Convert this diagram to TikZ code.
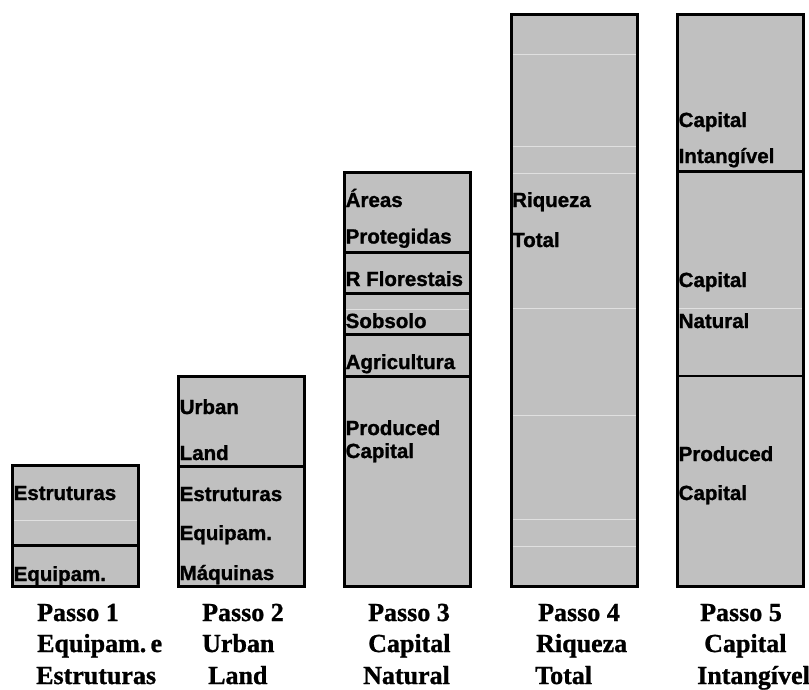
\documentclass[tikz,border=0pt]{standalone}
\usepackage{fontspec}
\newfontfamily\barfont{Liberation Sans Bold}[FakeBold=1.2]
\newfontfamily\passofont{Liberation Serif Bold}[FakeBold=1]
\usepackage{xcolor}
\usepackage{tikz}
\usetikzlibrary{calc}

\definecolor{Silver}{RGB}{192,192,192}
\definecolor{Faint}{RGB}{224,224,224}

\begin{document}
\begin{tikzpicture}[x=1pt, y=-1pt,
	barfill/.style={fill=Silver},
	barline/.style={draw=black, line width=3pt},
	faint/.style={draw=Faint, line width=1pt},
	lbl/.style={anchor=base west, inner sep=0pt, font=\barfont\fontsize{20.5}{22}\selectfont},
	passo/.style={anchor=base west, inner sep=0pt, font=\passofont\fontsize{26}{28}\selectfont}]

	\useasboundingbox (0,0) rectangle (809,689);

	% Passo 1
	\fill[barfill] (12.5,465.5) rectangle (138.5,586.5);
	\draw[faint] (12.5,520) -- (138.5,520);
	\draw[barline] (12.5,465.5) rectangle (138.5,586.5);
	\draw[barline] (12.5,545.5) -- (138.5,545.5);
	\node[lbl] (estr1) at (13.5,500) {Estruturas};
	\node[lbl] (equi1) at (13.5,581) {Equipam.};

	% Passo 2
	\fill[barfill] (178.5,376) rectangle (304.5,586.5);
	\draw[barline] (178.5,376) rectangle (304.5,586.5);
	\draw[barline] (178.5,466) -- (304.5,466);
	\node[lbl] (urb2) at (179.5,414) {Urban};
	\node[lbl] (land2) at (179.5,460) {Land};
	\node[lbl] (estr2) at (179.5,501) {Estruturas};
	\node[lbl] (equi2) at (179.5,540) {Equipam.};
	\node[lbl] (maq2) at (179.5,580) {Máquinas};

	% Passo 3
	\fill[barfill] (344.5,172.5) rectangle (470.5,586.5);
	\draw[faint] (344.5,309) -- (470.5,309);
	\draw[barline] (344.5,172.5) rectangle (470.5,586.5);
	\foreach \y in {252,293,334,376}
		\draw[barline] (344.5,\y) -- (470.5,\y);
	\node[lbl] (area3) at (345.5,207) {Áreas};
	\node[lbl] (prot3) at (345.5,243.5) {Protegidas};
	\node[lbl] (flor3) at (345.5,286) {R Florestais};
	\node[lbl] (sobs3) at (345.5,328) {Sobsolo};
	\node[lbl] (agri3) at (345.5,369) {Agricultura};
	\node[lbl] (prod3) at (345.5,435) {Produced};
	\node[lbl] (capi3) at (345.5,458) {Capital};

	% Passo 4
	\fill[barfill] (511,14.5) rectangle (637,586.5);
	\foreach \y in {54,146,173,308,415,519,546}
		\draw[faint] (511,\y) -- (637,\y);
	\draw[barline] (511,14.5) rectangle (637,586.5);
	\node[lbl] (riq4) at (512,207) {Riqueza};
	\node[lbl] (tot4) at (512,247) {Total};

	% Passo 5
	\fill[barfill] (677.5,14.5) rectangle (803.5,586.5);
	\draw[faint] (677.5,308) -- (803.5,308);
	\draw[barline] (677.5,14.5) rectangle (803.5,586.5);
	\draw[barline] (677.5,171) -- (803.5,171);
	\draw[draw=black, line width=2pt] (677.5,376) -- (803.5,376);
	\node[lbl] (capa5) at (678.5,127) {Capital};
	\node[lbl] (inta5) at (678.5,163) {Intangível};
	\node[lbl] (capb5) at (678.5,287) {Capital};
	\node[lbl] (natu5) at (678.5,328) {Natural};
	\node[lbl] (prod5) at (678.5,461) {Produced};
	\node[lbl] (capc5) at (678.5,500) {Capital};

	% legendas
	\node[passo] (pa1) at (37,621) {Passo 1};
	\node[passo] (pb1) at (37,652) {Equipam.\,e};
	\node[passo] (pc1) at (36,684) {Estruturas};
	\node[passo] (pa2) at (202,621) {Passo 2};
	\node[passo] (pb2) at (202,652) {Urban};
	\node[passo] (pc2) at (208,684) {Land};
	\node[passo] (pa3) at (368,621) {Passo 3};
	\node[passo] (pb3) at (368,652) {Capital};
	\node[passo] (pc3) at (363,684) {Natural};
	\node[passo] (pa4) at (538,621) {Passo 4};
	\node[passo] (pb4) at (536,652) {Riqueza};
	\node[passo] (pc4) at (535,684) {Total};
	\node[passo] (pa5) at (700,621) {Passo 5};
	\node[passo] (pb5) at (704,652) {Capital};
	\node[passo] (pc5) at (697,684) {Intangível};

\end{tikzpicture}
\end{document}
